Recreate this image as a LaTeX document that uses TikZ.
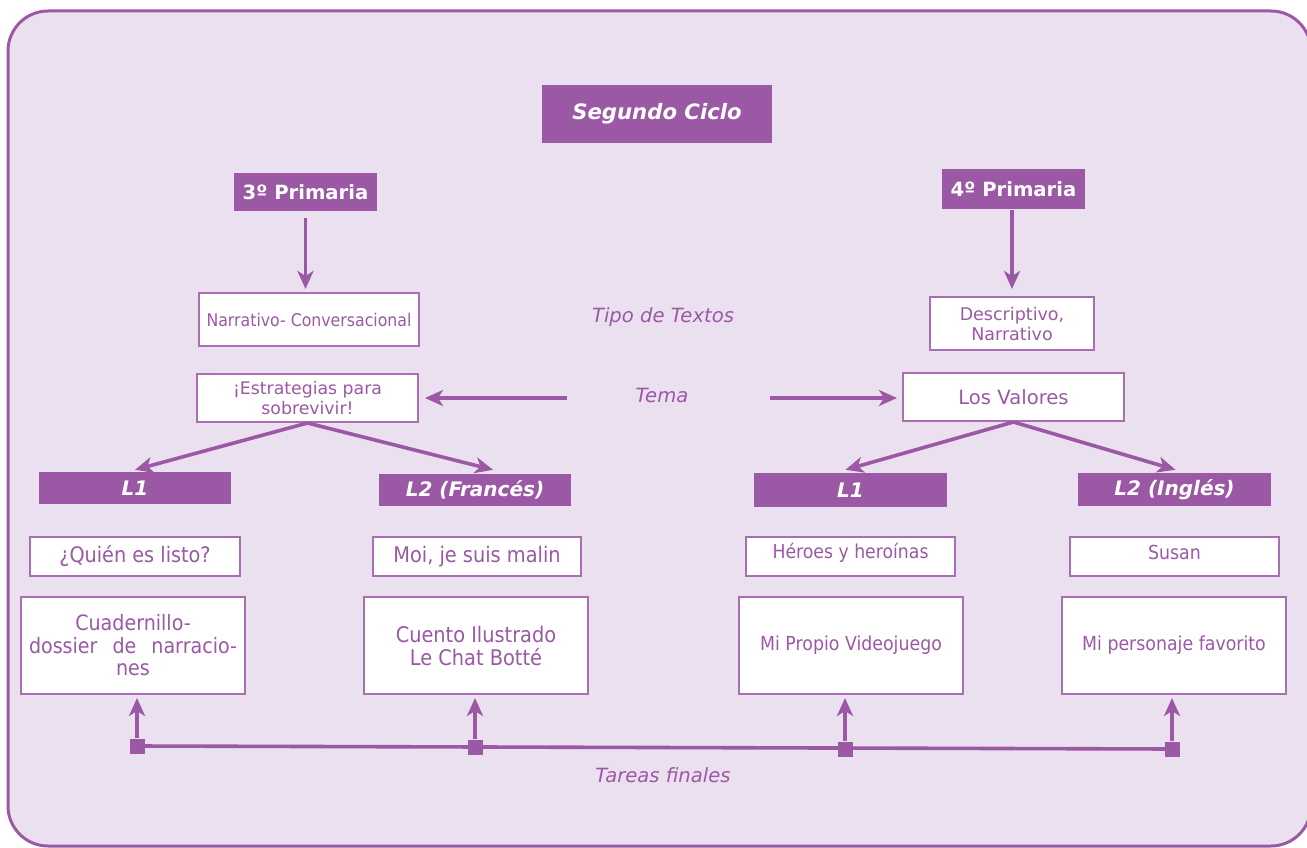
\documentclass[tikz,border=0pt]{standalone}
\usepackage{fontspec}
\setmainfont{DejaVu Sans}
\newfontfamily\tah[FakeStretch=0.9]{DejaVu Sans}
\usetikzlibrary{arrows.meta,calc}
\definecolor{pur}{RGB}{155,89,165}
\definecolor{bgl}{RGB}{235,224,239}
\definecolor{bord}{RGB}{170,110,180}
\newcommand\fsz[2]{\fontsize{#1}{#2}\selectfont}
\newcommand\upit[1]{\raisebox{4pt}[\height][\depth]{#1}}
\begin{document}
\begin{tikzpicture}[x=1pt,y=-1pt,
 hdr/.style={fill=pur,text=white,inner sep=0pt},
 wbox/.style={fill=white,draw=bord,line width=2pt,text=pur,inner sep=0pt,align=center},
 lbl/.style={text=pur,font=\itshape\fsz{19.6}{23}},
 conn/.style={draw=pur,line width=3.6pt,-{Stealth[length=18pt,width=16pt,inset=5pt]}},
 sq/.style={fill=pur,minimum size=15pt,inner sep=0pt}
]
\useasboundingbox (0,0) rectangle (1307,848);
\begin{scope}
\clip (0,0) rectangle (1307,848);
\draw[fill=bgl,draw=pur,line width=3pt,rounded corners=40pt] (8,11) rectangle (1311,846);
\end{scope}

\node[hdr,minimum width=230,minimum height=58,font=\bfseries\itshape\fsz{21.2}{24}] (sc) at (657,114) {Segundo Ciclo};
\node[hdr,minimum width=143,minimum height=38,font=\bfseries\fsz{19.6}{22}] (p3) at (305.5,192) {3º Primaria};
\node[hdr,minimum width=143,minimum height=40,font=\bfseries\fsz{19.6}{22}] (p4) at (1013.5,189) {4º Primaria};

\node[wbox,minimum width=220,minimum height=53,font=\tah\fsz{17.5}{19}] (narr) at (309,319.5) {Narrativo- Conversacional};
\node[wbox,minimum width=164,minimum height=53,font=\fsz{17.5}{20}] (desc) at (1012,323.5) {Descriptivo,\\Narrativo};
\node[lbl] (tipo) at (663,317) {Tipo de Textos};

\draw[conn,shorten <=7pt,shorten >=3pt] (p3.south) -- (p3.south |- narr.north);
\draw[conn,shorten <=1pt,shorten >=7pt] (p4.south -| desc.north) -- (desc.north);

\node[wbox,minimum width=221,minimum height=48,font=\fsz{17.3}{20}] (estr) at (307.5,398) {¡Estrategias para\\sobrevivir!};
\node[wbox,minimum width=221,minimum height=48,font=\fsz{19.6}{22}] (val) at (1013.5,397) {Los Valores};
\node[lbl] (tema) at (662,395) {Tema};
\coordinate (tl) at (567,398);
\coordinate (tr) at (770,398);
\draw[conn,shorten >=6pt] (tl) -- (tl -| estr.east);
\draw[conn,shorten >=5pt] (tr) -- (tr -| val.west);

\node[hdr,minimum width=192,minimum height=32,font=\bfseries\itshape\fsz{20}{22}] (l1a) at (135,488) {L1};
\node[hdr,minimum width=192,minimum height=32,font=\bfseries\itshape\fsz{20}{22}] (l2a) at (475,490) {L2 (Francés)};
\node[hdr,minimum width=193,minimum height=34,font=\bfseries\itshape\fsz{20}{22}] (l1b) at (850.5,490) {L1};
\node[hdr,minimum width=193,minimum height=33,font=\bfseries\itshape\fsz{20}{22}] (l2b) at (1174.5,489.5) {L2 (Inglés)};

\draw[conn] (estr.south) -- ($(l1a.north)+(0,-2)$);
\draw[conn] (estr.south) -- ($(l2a.north)+(18,-4)$);
\draw[conn] (val.south) -- ($(l1b.north)+(-5,-3)$);
\draw[conn] (val.south) -- ($(l2b.north)+(1,-3)$);

\node[wbox,minimum width=210,minimum height=39,font=\tah\fsz{21.4}{22}] (q1) at (135,556.5) {¿Quién es listo?};
\node[wbox,minimum width=208,minimum height=39,font=\tah\fsz{21.5}{22}] (q2) at (477,556.5) {Moi, je suis malin};
\node[wbox,minimum width=209,minimum height=39,font=\tah\fsz{19.2}{20}] (q3) at (850.5,556.5) {\upit{Héroes y heroínas}};
\node[wbox,minimum width=209,minimum height=39,font=\tah\fsz{19.3}{20}] (q4) at (1174.5,556.5) {\upit{Susan}};

\node[wbox,minimum width=224,minimum height=97,font=\tah\fsz{21.2}{22.5}] (b1) at (133,645.5) {Cuadernillo-\\\makebox[208pt][s]{dossier de narracio-}\\nes};
\node[wbox,minimum width=224,minimum height=97,font=\tah\fsz{21.5}{23}] (b2) at (476,645.5) {Cuento Ilustrado\\Le Chat Botté};
\node[wbox,minimum width=224,minimum height=97,font=\tah\fsz{19.3}{21}] (b3) at (851,645.5) {Mi Propio Videojuego};
\node[wbox,minimum width=224,minimum height=97,font=\tah\fsz{19.3}{21}] (b4) at (1174,645.5) {Mi personaje favorito};

\node[sq] (s1) at (137,746) {};
\node[sq] (s2) at (475,747) {};
\node[sq] (s3) at (845,749) {};
\node[sq] (s4) at (1172,749) {};
\draw[pur,line width=3.6pt] (s1.center) -- (s4.center);

\draw[conn,shorten >=3pt] (s1.north) -- (s1.north |- b1.south);
\draw[conn,shorten >=3pt] (s2.north) -- (s2.north |- b2.south);
\draw[conn,shorten >=3pt] (s3.north) -- (s3.north |- b3.south);
\draw[conn,shorten >=3pt] (s4.north) -- (s4.north |- b4.south);

\node[lbl] (tar) at (663,775) {Tareas finales};
\end{tikzpicture}
\end{document}
